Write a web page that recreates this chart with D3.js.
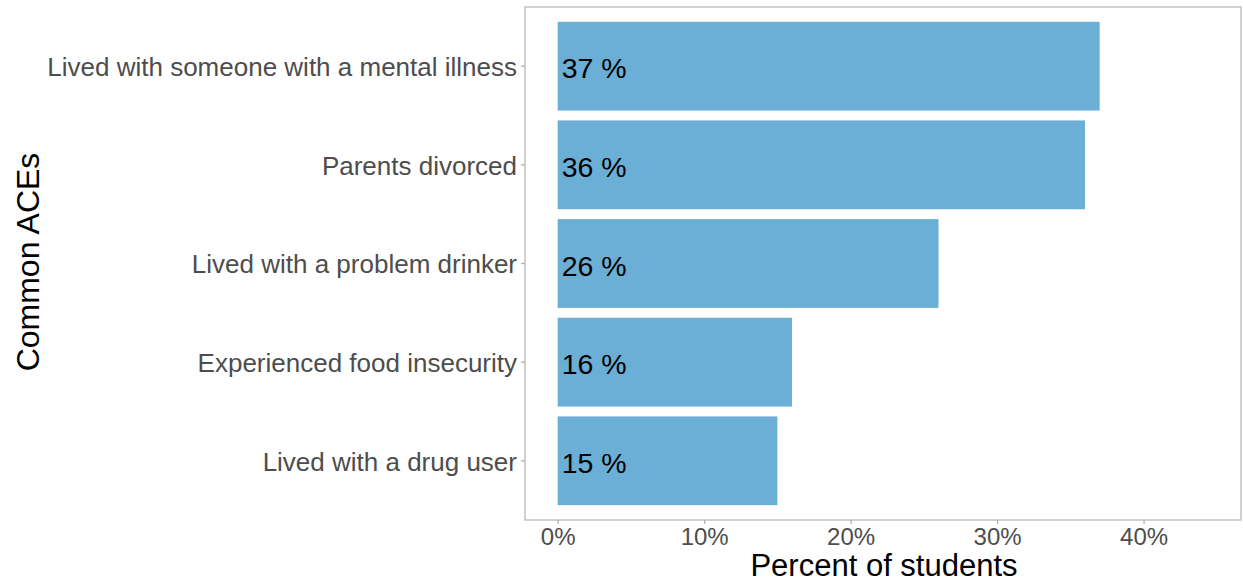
<!DOCTYPE html>
<html><head><meta charset="utf-8">
<script src="https://cdn.jsdelivr.net/npm/d3@7"></script>
<style>body{margin:0;background:#fff}svg{display:block}text{font-family:"Liberation Sans",Arial,sans-serif}</style>
</head><body><svg id="c" width="1243" height="582"></svg>
<script>
const categories = ["Lived with someone with a mental illness","Parents divorced","Lived with a problem drinker","Experienced food insecurity","Lived with a drug user"];
const values = [37, 36, 26, 16, 15];
const xTicks = [0, 10, 20, 30, 40];
const xTickLabels = ["0%","10%","20%","30%","40%"];

const svg = d3.select("#c");
const L = 525, R = 1241, T = 7, B = 520;
const x = d3.scaleLinear().domain([-2.23, 46.65]).range([L, R]);
const y = d3.scaleBand().domain(categories).range([T, B]).paddingInner(0.1).paddingOuter(0.15);

svg.append("rect").attr("x", L).attr("y", T).attr("width", R - L).attr("height", B - T)
  .attr("fill", "#fff").attr("stroke", "#b8b8b8").attr("stroke-width", 1.3);

svg.selectAll("rect.bar").data(values).join("rect").attr("class","bar")
  .attr("x", x(0)).attr("y", (d,i) => y(categories[i]))
  .attr("width", d => x(d) - x(0)).attr("height", y.bandwidth())
  .attr("fill", "#6baed6");

svg.selectAll("text.lab").data(values).join("text").attr("class","lab")
  .attr("x", x(0) + 4).attr("y", (d,i) => y(categories[i]) + y.bandwidth()/2 + 2)
  .attr("dy", "0.36em").attr("font-size", 28.5).attr("fill", "#000")
  .text(d => d + " %");

// x axis
const xa = svg.append("g").attr("transform", `translate(0,${B})`)
  .call(d3.axisBottom(x).tickValues(xTicks).tickFormat((d,i) => xTickLabels[i]).tickSize(4).tickPadding(4));
xa.select(".domain").remove();
xa.selectAll("line").attr("stroke", "#b0b0b0").attr("stroke-width", 1.3);
xa.selectAll("text").attr("font-size", 24).attr("fill", "#4d4d4d").attr("font-family", '"Liberation Sans",Arial,sans-serif');

// y axis
const ya = svg.append("g").attr("transform", `translate(${L},0)`)
  .call(d3.axisLeft(y).tickSize(4).tickPadding(4));
ya.select(".domain").remove();
ya.selectAll("line").attr("stroke", "#b0b0b0").attr("stroke-width", 1.3);
ya.selectAll("text").attr("font-size", 26).attr("dy", "0.38em").attr("fill", "#4d4d4d").attr("font-family", '"Liberation Sans",Arial,sans-serif');

svg.append("text").attr("x", 884).attr("y", 576).attr("text-anchor", "middle")
  .attr("font-size", 31).attr("fill", "#000").text("Percent of students");
svg.append("text").attr("transform", `translate(39,262) rotate(-90)`).attr("text-anchor", "middle")
  .attr("font-size", 32).attr("fill", "#000").text("Common ACEs");
</script></body></html>
